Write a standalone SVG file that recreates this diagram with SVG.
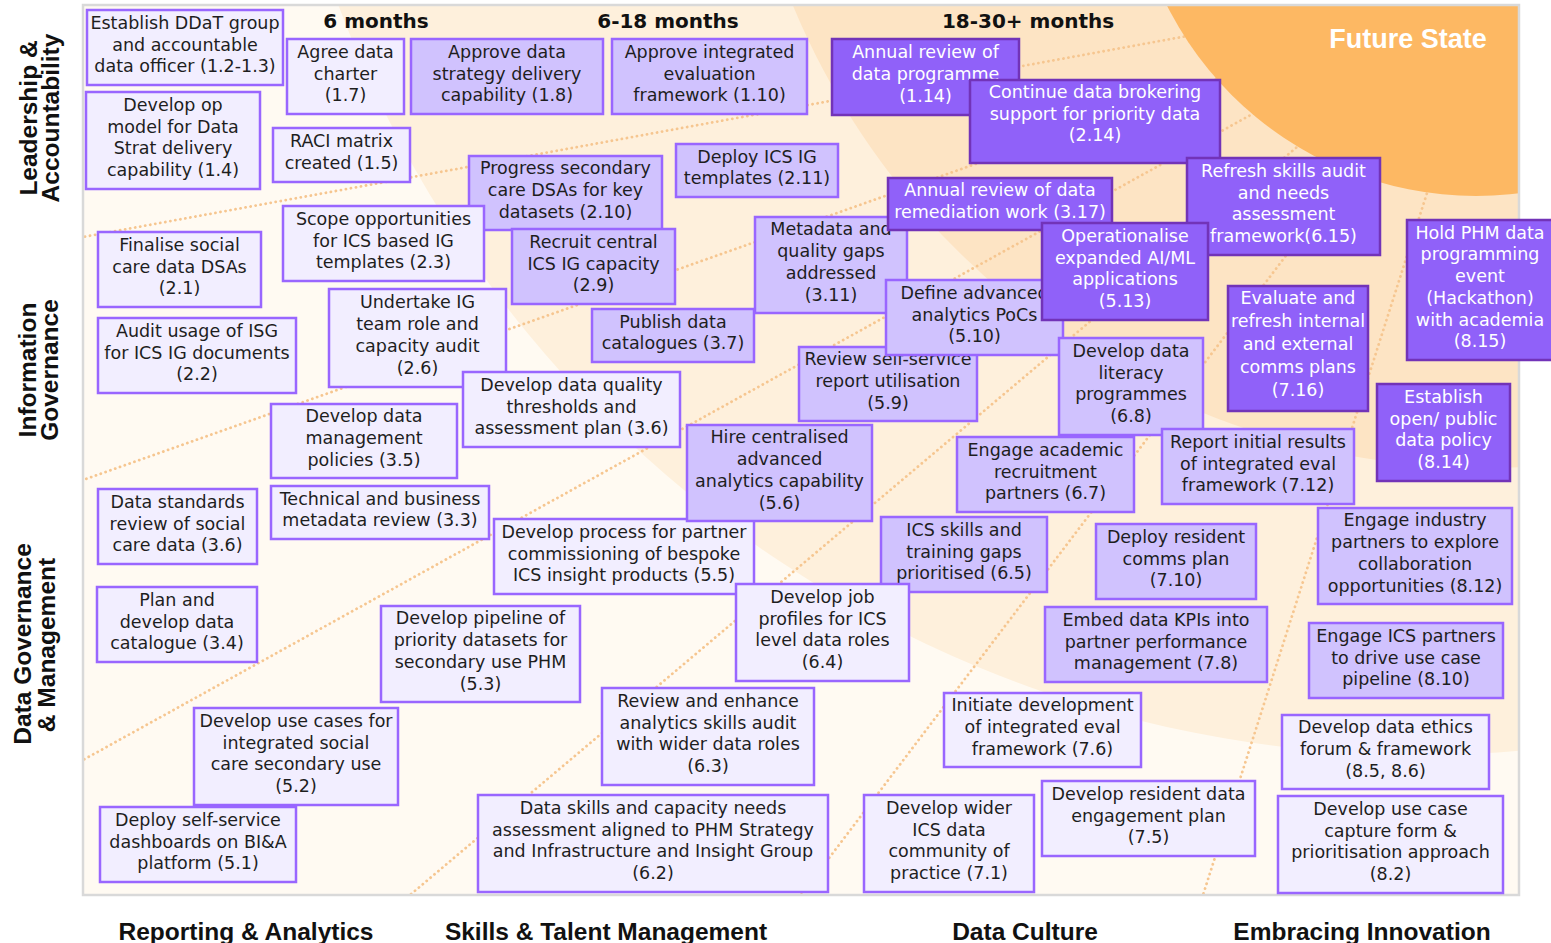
<svg xmlns="http://www.w3.org/2000/svg" width="1551" height="943" viewBox="0 0 1551 943">
<style>
.bl{fill:#F2EEFF;stroke:#9966FF;stroke-width:2.5}
.bm{fill:#D0C2FE;stroke:#9966FF;stroke-width:2.5}
.bd{fill:#9061F9;stroke:#7233B8;stroke-width:2.5}
.t{font-family:"DejaVu Sans",sans-serif;font-size:17.5px;fill:#1e1e1e;text-anchor:middle}
.tw{fill:#ffffff}
.hd{font-family:"DejaVu Sans",sans-serif;font-weight:bold;font-size:20px;fill:#111;text-anchor:middle}
.lab{font-family:"Liberation Sans",Arial,sans-serif;font-weight:bold;font-size:24.5px;fill:#111;text-anchor:middle}
.dot{fill:none;stroke:#F6C690;stroke-width:2.8;stroke-dasharray:0.1 5;stroke-linecap:round}
</style>
<defs>
<clipPath id="pc"><rect x="83" y="5" width="1436" height="890"/></clipPath>
</defs>
<g id="background">
<rect x="83" y="5" width="1436" height="890" fill="#FFFAF2"/>
<g clip-path="url(#pc)">
<circle cx="1420" cy="-400" r="1155" fill="#FEF0DC"/>
<circle cx="1485" cy="-281" r="749" fill="#FDE4C4"/>
<g id="radials">
<line class="dot" x1="1495" y1="-20" x2="83" y2="237"/>
<line class="dot" x1="1495" y1="-20" x2="83" y2="480"/>
<line class="dot" x1="1495" y1="-20" x2="83" y2="760"/>
<line class="dot" x1="1495" y1="-20" x2="410" y2="895"/>
<line class="dot" x1="1495" y1="-20" x2="801" y2="895"/>
<line class="dot" x1="1495" y1="-20" x2="1203" y2="895"/>
</g>
<circle cx="1476" cy="-150" r="346" fill="#FDB863"/>
</g>
<rect x="83" y="5" width="1436" height="890" fill="none" stroke="#D9D9D9" stroke-width="2.5"/>
<text x="1408" y="48" font-family="Liberation Sans,Arial,sans-serif" font-weight="bold" font-size="27" fill="#ffffff" text-anchor="middle">Future State</text>
</g>
<g id="headers">
<text class="hd" x="376" y="28">6 months</text>
<text class="hd" x="668" y="28">6-18 months</text>
<text class="hd" x="1028" y="28">18-30+ months</text>
</g>
<g id="row-labels">
<text class="lab" transform="translate(37,118) rotate(-90)">Leadership &amp;</text>
<text class="lab" transform="translate(59,118) rotate(-90)">Accountability</text>
<text class="lab" transform="translate(36,370) rotate(-90)">Information</text>
<text class="lab" transform="translate(58,370) rotate(-90)">Governance</text>
<text class="lab" transform="translate(31,644) rotate(-90)">Data Governance</text>
<text class="lab" transform="translate(55,645) rotate(-90)">&amp; Management</text>
</g>
<g id="column-labels">
<text class="lab" x="246" y="940" font-size="23.5">Reporting &amp; Analytics</text>
<text class="lab" x="606" y="940" font-size="23.5">Skills &amp; Talent Management</text>
<text class="lab" x="1025" y="940" font-size="23.5">Data Culture</text>
<text class="lab" x="1362" y="940" font-size="23.5">Embracing Innovation</text>
</g>
<g id="connectors"></g>
<g id="nodes">
<g id="n1-2"><rect class="bl" x="87" y="10" width="196" height="75"/><text class="t"><tspan x="185" y="28.8">Establish DDaT group</tspan><tspan x="185" y="50.5">and accountable</tspan><tspan x="185" y="72.2">data officer (1.2-1.3)</tspan></text></g>
<g id="n1-7"><rect class="bl" x="287" y="39" width="117" height="75"/><text class="t"><tspan x="345.5" y="57.8">Agree data</tspan><tspan x="345.5" y="79.5">charter</tspan><tspan x="345.5" y="101.2">(1.7)</tspan></text></g>
<g id="n1-8"><rect class="bm" x="411" y="39" width="192" height="75"/><text class="t"><tspan x="507" y="57.8">Approve data</tspan><tspan x="507" y="79.5">strategy delivery</tspan><tspan x="507" y="101.2">capability (1.8)</tspan></text></g>
<g id="n1-10"><rect class="bm" x="612" y="39" width="195" height="75"/><text class="t"><tspan x="709.5" y="57.8">Approve integrated</tspan><tspan x="709.5" y="79.5">evaluation</tspan><tspan x="709.5" y="101.2">framework (1.10)</tspan></text></g>
<g id="n1-14"><rect class="bd" x="832" y="39" width="187" height="76"/><text class="t tw"><tspan x="925.5" y="58.3">Annual review of</tspan><tspan x="925.5" y="80">data programme</tspan><tspan x="925.5" y="101.7">(1.14)</tspan></text></g>
<g id="n2-14"><rect class="bd" x="970" y="80" width="250" height="83"/><text class="t tw"><tspan x="1095" y="97.8">Continue data brokering</tspan><tspan x="1095" y="119.5">support for priority data</tspan><tspan x="1095" y="141.2">(2.14)</tspan></text></g>
<g id="n1-4"><rect class="bl" x="86" y="92" width="174" height="97"/><text class="t"><tspan x="173" y="110.9">Develop op</tspan><tspan x="173" y="132.6">model for Data</tspan><tspan x="173" y="154.3">Strat delivery</tspan><tspan x="173" y="176">capability (1.4)</tspan></text></g>
<g id="n1-5"><rect class="bl" x="273" y="128" width="137" height="54"/><text class="t"><tspan x="341.5" y="147.2">RACI matrix</tspan><tspan x="341.5" y="168.9">created (1.5)</tspan></text></g>
<g id="n2-10"><rect class="bm" x="469" y="156" width="193" height="74"/><text class="t"><tspan x="565.5" y="174.3">Progress secondary</tspan><tspan x="565.5" y="196">care DSAs for key</tspan><tspan x="565.5" y="217.7">datasets (2.10)</tspan></text></g>
<g id="n2-11"><rect class="bm" x="676" y="144" width="162" height="53"/><text class="t"><tspan x="757" y="162.6">Deploy ICS IG</tspan><tspan x="757" y="184.3">templates (2.11)</tspan></text></g>
<g id="n2-9"><rect class="bm" x="512" y="229" width="163" height="75"/><text class="t"><tspan x="593.5" y="247.8">Recruit central</tspan><tspan x="593.5" y="269.5">ICS IG capacity</tspan><tspan x="593.5" y="291.2">(2.9)</tspan></text></g>
<g id="n2-3"><rect class="bl" x="283" y="206" width="201" height="75"/><text class="t"><tspan x="383.5" y="224.8">Scope opportunities</tspan><tspan x="383.5" y="246.5">for ICS based IG</tspan><tspan x="383.5" y="268.2">templates (2.3)</tspan></text></g>
<g id="n2-1"><rect class="bl" x="98" y="232" width="163" height="75"/><text class="t"><tspan x="179.5" y="250.8">Finalise social</tspan><tspan x="179.5" y="272.5">care data DSAs</tspan><tspan x="179.5" y="294.2">(2.1)</tspan></text></g>
<g id="n3-11"><rect class="bm" x="755" y="217" width="152" height="96"/><text class="t"><tspan x="831" y="235.4">Metadata and</tspan><tspan x="831" y="257.1">quality gaps</tspan><tspan x="831" y="278.8">addressed</tspan><tspan x="831" y="300.5">(3.11)</tspan></text></g>
<g id="n5-9"><rect class="bm" x="799" y="347" width="178" height="74"/><text class="t"><tspan x="888" y="365.3">Review self-service</tspan><tspan x="888" y="387">report utilisation</tspan><tspan x="888" y="408.7">(5.9)</tspan></text></g>
<g id="n5-10"><rect class="bm" x="886" y="280" width="177" height="75"/><text class="t"><tspan x="974.5" y="298.8">Define advanced</tspan><tspan x="974.5" y="320.5">analytics PoCs</tspan><tspan x="974.5" y="342.2">(5.10)</tspan></text></g>
<g id="n3-17"><rect class="bd" x="888" y="178" width="224" height="52"/><text class="t tw"><tspan x="1000" y="196.1">Annual review of data</tspan><tspan x="1000" y="217.8">remediation work (3.17)</tspan></text></g>
<g id="n6-15"><rect class="bd" x="1187" y="158" width="193" height="97"/><text class="t tw"><tspan x="1283.5" y="176.9">Refresh skills audit</tspan><tspan x="1283.5" y="198.6">and needs</tspan><tspan x="1283.5" y="220.3">assessment</tspan><tspan x="1283.5" y="242">framework(6.15)</tspan></text></g>
<g id="n5-13"><rect class="bd" x="1042" y="223" width="166" height="97"/><text class="t tw"><tspan x="1125" y="241.9">Operationalise</tspan><tspan x="1125" y="263.6">expanded AI/ML</tspan><tspan x="1125" y="285.3">applications</tspan><tspan x="1125" y="307">(5.13)</tspan></text></g>
<g id="n8-15"><rect class="bd" x="1407" y="220" width="150" height="140"/><text class="t tw"><tspan x="1480" y="238.7">Hold PHM data</tspan><tspan x="1480" y="260.4">programming</tspan><tspan x="1480" y="282.1">event</tspan><tspan x="1480" y="303.8">(Hackathon)</tspan><tspan x="1480" y="325.5">with academia</tspan><tspan x="1480" y="347.2">(8.15)</tspan></text></g>
<g id="n2-6"><rect class="bl" x="329" y="289" width="177" height="98"/><text class="t"><tspan x="417.5" y="308.4">Undertake IG</tspan><tspan x="417.5" y="330.1">team role and</tspan><tspan x="417.5" y="351.8">capacity audit</tspan><tspan x="417.5" y="373.5">(2.6)</tspan></text></g>
<g id="n2-2"><rect class="bl" x="98" y="318" width="198" height="75"/><text class="t"><tspan x="197" y="336.8">Audit usage of ISG</tspan><tspan x="197" y="358.5">for ICS IG documents</tspan><tspan x="197" y="380.2">(2.2)</tspan></text></g>
<g id="n3-7"><rect class="bm" x="592" y="309" width="162" height="53"/><text class="t"><tspan x="673" y="327.6">Publish data</tspan><tspan x="673" y="349.3">catalogues (3.7)</tspan></text></g>
<g id="n3-6a"><rect class="bl" x="463" y="372" width="217" height="75"/><text class="t"><tspan x="571.5" y="390.8">Develop data quality</tspan><tspan x="571.5" y="412.5">thresholds and</tspan><tspan x="571.5" y="434.2">assessment plan (3.6)</tspan></text></g>
<g id="n6-8"><rect class="bm" x="1059" y="338" width="144" height="97"/><text class="t"><tspan x="1131" y="356.9">Develop data</tspan><tspan x="1131" y="378.6">literacy</tspan><tspan x="1131" y="400.3">programmes</tspan><tspan x="1131" y="422">(6.8)</tspan></text></g>
<g id="n7-16"><rect class="bd" x="1228" y="286" width="140" height="125"/><text class="t tw"><tspan x="1298" y="304">Evaluate and</tspan><tspan x="1298" y="327">refresh internal</tspan><tspan x="1298" y="350">and external</tspan><tspan x="1298" y="373">comms plans</tspan><tspan x="1298" y="396">(7.16)</tspan></text></g>
<g id="n8-14"><rect class="bd" x="1377" y="384" width="133" height="97"/><text class="t tw"><tspan x="1443.5" y="402.9">Establish</tspan><tspan x="1443.5" y="424.6">open/ public</tspan><tspan x="1443.5" y="446.3">data policy</tspan><tspan x="1443.5" y="468">(8.14)</tspan></text></g>
<g id="n3-5"><rect class="bl" x="271" y="404" width="186" height="74"/><text class="t"><tspan x="364" y="422.3">Develop data</tspan><tspan x="364" y="444">management</tspan><tspan x="364" y="465.7">policies (3.5)</tspan></text></g>
<g id="n5-5"><rect class="bl" x="494" y="519" width="260" height="75"/><text class="t"><tspan x="624" y="537.8">Develop process for partner</tspan><tspan x="624" y="559.5">commissioning of bespoke</tspan><tspan x="624" y="581.2">ICS insight products (5.5)</tspan></text></g>
<g id="n5-6"><rect class="bm" x="687" y="425" width="185" height="96"/><text class="t"><tspan x="779.5" y="443.4">Hire centralised</tspan><tspan x="779.5" y="465.1">advanced</tspan><tspan x="779.5" y="486.8">analytics capability</tspan><tspan x="779.5" y="508.5">(5.6)</tspan></text></g>
<g id="n6-7"><rect class="bm" x="957" y="437" width="177" height="75"/><text class="t"><tspan x="1045.5" y="455.8">Engage academic</tspan><tspan x="1045.5" y="477.5">recruitment</tspan><tspan x="1045.5" y="499.2">partners (6.7)</tspan></text></g>
<g id="n7-12"><rect class="bm" x="1162" y="429" width="192" height="75"/><text class="t"><tspan x="1258" y="447.8">Report initial results</tspan><tspan x="1258" y="469.5">of integrated eval</tspan><tspan x="1258" y="491.2">framework (7.12)</tspan></text></g>
<g id="n3-6b"><rect class="bl" x="98" y="489" width="159" height="75"/><text class="t"><tspan x="177.5" y="507.8">Data standards</tspan><tspan x="177.5" y="529.5">review of social</tspan><tspan x="177.5" y="551.2">care data (3.6)</tspan></text></g>
<g id="n3-3"><rect class="bl" x="271" y="486" width="218" height="53"/><text class="t"><tspan x="380" y="504.6">Technical and business</tspan><tspan x="380" y="526.3">metadata review (3.3)</tspan></text></g>
<g id="n6-5"><rect class="bm" x="881" y="517" width="166" height="75"/><text class="t"><tspan x="964" y="535.8">ICS skills and</tspan><tspan x="964" y="557.5">training gaps</tspan><tspan x="964" y="579.2">prioritised (6.5)</tspan></text></g>
<g id="n7-10"><rect class="bm" x="1096" y="524" width="160" height="75"/><text class="t"><tspan x="1176" y="542.8">Deploy resident</tspan><tspan x="1176" y="564.5">comms plan</tspan><tspan x="1176" y="586.2">(7.10)</tspan></text></g>
<g id="n8-12"><rect class="bm" x="1318" y="508" width="194" height="96"/><text class="t"><tspan x="1415" y="526.4">Engage industry</tspan><tspan x="1415" y="548.1">partners to explore</tspan><tspan x="1415" y="569.8">collaboration</tspan><tspan x="1415" y="591.5">opportunities (8.12)</tspan></text></g>
<g id="n3-4"><rect class="bl" x="97" y="587" width="160" height="75"/><text class="t"><tspan x="177" y="605.8">Plan and</tspan><tspan x="177" y="627.5">develop data</tspan><tspan x="177" y="649.2">catalogue (3.4)</tspan></text></g>
<g id="n6-4"><rect class="bl" x="736" y="584" width="173" height="97"/><text class="t"><tspan x="822.5" y="602.9">Develop job</tspan><tspan x="822.5" y="624.6">profiles for ICS</tspan><tspan x="822.5" y="646.3">level data roles</tspan><tspan x="822.5" y="668">(6.4)</tspan></text></g>
<g id="n5-3"><rect class="bl" x="381" y="606" width="199" height="96"/><text class="t"><tspan x="480.5" y="624.4">Develop pipeline of</tspan><tspan x="480.5" y="646.1">priority datasets for</tspan><tspan x="480.5" y="667.8">secondary use PHM</tspan><tspan x="480.5" y="689.5">(5.3)</tspan></text></g>
<g id="n7-8"><rect class="bm" x="1045" y="607" width="222" height="75"/><text class="t"><tspan x="1156" y="625.8">Embed data KPIs into</tspan><tspan x="1156" y="647.5">partner performance</tspan><tspan x="1156" y="669.2">management (7.8)</tspan></text></g>
<g id="n8-10"><rect class="bm" x="1309" y="623" width="194" height="75"/><text class="t"><tspan x="1406" y="641.8">Engage ICS partners</tspan><tspan x="1406" y="663.5">to drive use case</tspan><tspan x="1406" y="685.2">pipeline (8.10)</tspan></text></g>
<g id="n6-3"><rect class="bl" x="602" y="688" width="212" height="97"/><text class="t"><tspan x="708" y="706.9">Review and enhance</tspan><tspan x="708" y="728.6">analytics skills audit</tspan><tspan x="708" y="750.3">with wider data roles</tspan><tspan x="708" y="772">(6.3)</tspan></text></g>
<g id="n7-6"><rect class="bl" x="944" y="693" width="197" height="74"/><text class="t"><tspan x="1042.5" y="711.3">Initiate development</tspan><tspan x="1042.5" y="733">of integrated eval</tspan><tspan x="1042.5" y="754.7">framework (7.6)</tspan></text></g>
<g id="n8-5"><rect class="bl" x="1282" y="715" width="207" height="74"/><text class="t"><tspan x="1385.5" y="733.3">Develop data ethics</tspan><tspan x="1385.5" y="755">forum &amp; framework</tspan><tspan x="1385.5" y="776.7">(8.5, 8.6)</tspan></text></g>
<g id="n5-2"><rect class="bl" x="194" y="708" width="204" height="97"/><text class="t"><tspan x="296" y="726.9">Develop use cases for</tspan><tspan x="296" y="748.6">integrated social</tspan><tspan x="296" y="770.3">care secondary use</tspan><tspan x="296" y="792">(5.2)</tspan></text></g>
<g id="n5-1"><rect class="bl" x="100" y="807" width="196" height="75"/><text class="t"><tspan x="198" y="825.8">Deploy self-service</tspan><tspan x="198" y="847.5">dashboards on BI&amp;A</tspan><tspan x="198" y="869.2">platform (5.1)</tspan></text></g>
<g id="n6-2"><rect class="bl" x="478" y="795" width="350" height="97"/><text class="t"><tspan x="653" y="813.9">Data skills and capacity needs</tspan><tspan x="653" y="835.6">assessment aligned to PHM Strategy</tspan><tspan x="653" y="857.3">and Infrastructure and Insight Group</tspan><tspan x="653" y="879">(6.2)</tspan></text></g>
<g id="n7-1"><rect class="bl" x="864" y="795" width="170" height="97"/><text class="t"><tspan x="949" y="813.9">Develop wider</tspan><tspan x="949" y="835.6">ICS data</tspan><tspan x="949" y="857.3">community of</tspan><tspan x="949" y="879">practice (7.1)</tspan></text></g>
<g id="n7-5"><rect class="bl" x="1042" y="781" width="213" height="75"/><text class="t"><tspan x="1148.5" y="799.8">Develop resident data</tspan><tspan x="1148.5" y="821.5">engagement plan</tspan><tspan x="1148.5" y="843.2">(7.5)</tspan></text></g>
<g id="n8-2"><rect class="bl" x="1278" y="796" width="225" height="97"/><text class="t"><tspan x="1390.5" y="814.9">Develop use case</tspan><tspan x="1390.5" y="836.6">capture form &amp;</tspan><tspan x="1390.5" y="858.3">prioritisation approach</tspan><tspan x="1390.5" y="880">(8.2)</tspan></text></g>
</g>
</svg>
